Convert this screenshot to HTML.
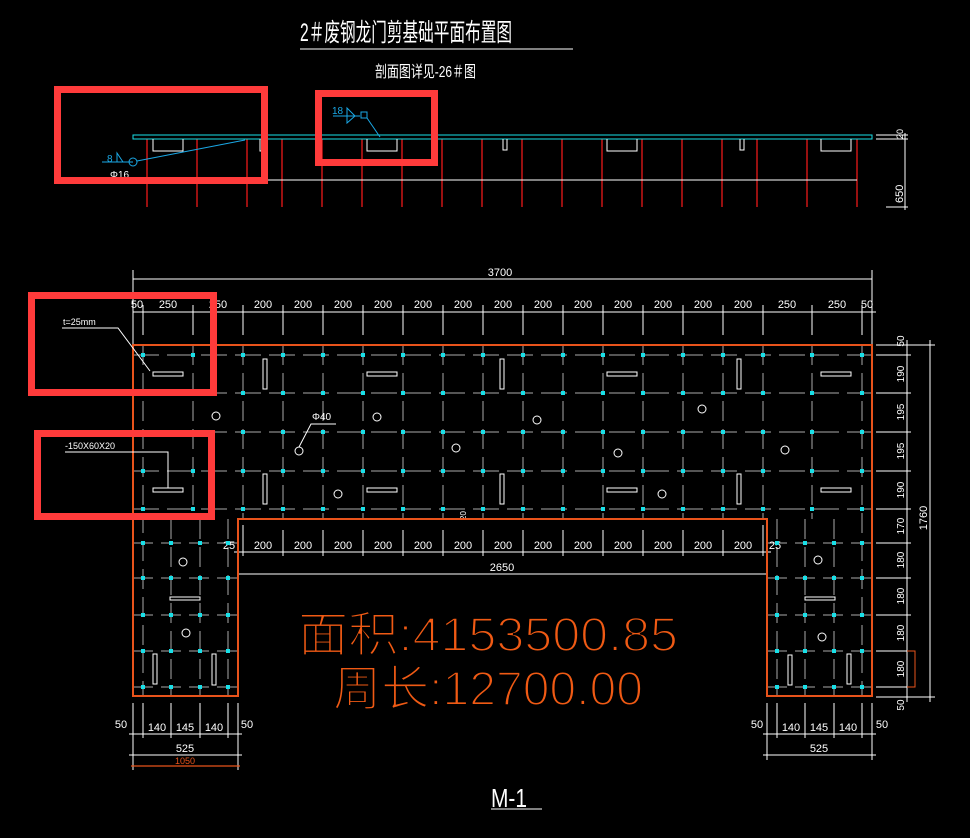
<!DOCTYPE html>
<html><head><meta charset="utf-8"><style>
html,body{margin:0;padding:0;background:#000;width:970px;height:838px;overflow:hidden}
svg{display:block}
text{font-family:"Liberation Sans","Noto Sans CJK SC",sans-serif}
</style></head><body>
<svg width="970" height="838" viewBox="0 0 970 838" xmlns="http://www.w3.org/2000/svg">
<defs>
<rect id="n" x="-2" y="-2" width="4" height="4" fill="#19e0e8"/>
</defs>
<text x="300" y="41" fill="#fff" font-size="25" textLength="212" lengthAdjust="spacingAndGlyphs">2＃废钢龙门剪基础平面布置图</text>
<line x1="300" y1="49" x2="573" y2="49" stroke="#fff" stroke-width="1"/>
<text x="375" y="77" fill="#fff" font-size="16" textLength="101" lengthAdjust="spacingAndGlyphs">剖面图详见-26＃图</text>

<g stroke="#ff1a1a" stroke-width="1.2">
<line x1="147" y1="139" x2="147" y2="207"/><line x1="197" y1="139" x2="197" y2="207"/><line x1="247" y1="139" x2="247" y2="207"/><line x1="282" y1="139" x2="282" y2="207"/><line x1="322" y1="139" x2="322" y2="207"/><line x1="362" y1="139" x2="362" y2="207"/><line x1="402" y1="139" x2="402" y2="207"/><line x1="442" y1="139" x2="442" y2="207"/><line x1="482" y1="139" x2="482" y2="207"/><line x1="522" y1="139" x2="522" y2="207"/><line x1="562" y1="139" x2="562" y2="207"/><line x1="602" y1="139" x2="602" y2="207"/><line x1="642" y1="139" x2="642" y2="207"/><line x1="682" y1="139" x2="682" y2="207"/><line x1="722" y1="139" x2="722" y2="207"/><line x1="757" y1="139" x2="757" y2="207"/><line x1="807" y1="139" x2="807" y2="207"/><line x1="857" y1="139" x2="857" y2="207"/>
</g>
<line x1="133" y1="180" x2="857" y2="180" stroke="#fff" stroke-width="1"/>
<rect x="133" y="135" width="739" height="4" fill="none" stroke="#19e0e8" stroke-width="1"/>
<g fill="none" stroke="#fff" stroke-width="1">
<path d="M153 139V151H183V139"/><path d="M260 139V151H262V139"/><path d="M367 139V151H397V139"/><path d="M503 139V150H507V139"/><path d="M607 139V151H637V139"/><path d="M740 139V150H744V139"/><path d="M821 139V151H851V139"/>
<line x1="876" y1="135" x2="908" y2="135"/><line x1="876" y1="139" x2="908" y2="139"/><line x1="905" y1="133" x2="905" y2="210"/><line x1="886" y1="207" x2="908" y2="207"/>
</g>
<text transform="translate(903,139) rotate(-90)" fill="#fff" font-size="9">20</text>
<text transform="translate(903,203) rotate(-90)" fill="#fff" font-size="11">650</text>
<g stroke="#1aa8e6" stroke-width="1" fill="none">
<line x1="102" y1="162" x2="133" y2="162"/><circle cx="133" cy="162" r="4"/><line x1="137" y1="161" x2="245" y2="140"/><path d="M117 162V153L123 162"/>
<line x1="333" y1="116" x2="360" y2="116"/><path d="M347 108L355 116L347 123Z"/><rect x="361" y="112" width="6" height="6"/><line x1="367" y1="118" x2="380" y2="137"/>
</g>
<text x="107" y="162" fill="#1aa8e6" font-size="10">8</text>
<text x="332" y="114" fill="#1aa8e6" font-size="10">18</text>
<text x="110" y="178" fill="#fff" font-size="10">Φ16</text>

<g stroke="#fff" stroke-width="1" fill="none">
<line x1="133" y1="279" x2="872" y2="279"/><line x1="133" y1="270" x2="133" y2="345"/><line x1="872" y1="270" x2="872" y2="345"/>
<line x1="133" y1="312" x2="876" y2="312"/>
<line x1="143" y1="305" x2="143" y2="335"/><line x1="193" y1="305" x2="193" y2="335"/><line x1="243" y1="305" x2="243" y2="335"/><line x1="283" y1="305" x2="283" y2="335"/><line x1="323" y1="305" x2="323" y2="335"/><line x1="363" y1="305" x2="363" y2="335"/><line x1="403" y1="305" x2="403" y2="335"/><line x1="443" y1="305" x2="443" y2="335"/><line x1="483" y1="305" x2="483" y2="335"/><line x1="523" y1="305" x2="523" y2="335"/><line x1="563" y1="305" x2="563" y2="335"/><line x1="603" y1="305" x2="603" y2="335"/><line x1="643" y1="305" x2="643" y2="335"/><line x1="683" y1="305" x2="683" y2="335"/><line x1="723" y1="305" x2="723" y2="335"/><line x1="763" y1="305" x2="763" y2="335"/><line x1="812" y1="305" x2="812" y2="335"/><line x1="862" y1="305" x2="862" y2="335"/>
</g>
<g fill="#fff" font-size="11" text-anchor="middle">
<text x="500" y="276">3700</text>
<text x="137" y="308">50</text><text x="168" y="308">250</text><text x="218" y="308">250</text>
<text x="263" y="308">200</text><text x="303" y="308">200</text><text x="343" y="308">200</text><text x="383" y="308">200</text><text x="423" y="308">200</text><text x="463" y="308">200</text><text x="503" y="308">200</text><text x="543" y="308">200</text><text x="583" y="308">200</text><text x="623" y="308">200</text><text x="663" y="308">200</text><text x="703" y="308">200</text><text x="743" y="308">200</text>
<text x="787" y="308">250</text><text x="837" y="308">250</text><text x="867" y="308">50</text>
</g>

<g stroke="#aaa" stroke-width="1" stroke-dasharray="26 8">
<line x1="133" y1="355" x2="872" y2="355"/><line x1="133" y1="393" x2="872" y2="393"/><line x1="133" y1="432" x2="872" y2="432"/><line x1="133" y1="471" x2="872" y2="471"/><line x1="133" y1="509" x2="872" y2="509"/>
</g>
<g stroke="#aaa" stroke-width="1" stroke-dasharray="20 8">
<line x1="143" y1="345" x2="143" y2="697"/><line x1="193" y1="345" x2="193" y2="519"/><line x1="243" y1="345" x2="243" y2="519"/><line x1="283" y1="345" x2="283" y2="519"/><line x1="323" y1="345" x2="323" y2="519"/><line x1="363" y1="345" x2="363" y2="519"/><line x1="403" y1="345" x2="403" y2="519"/><line x1="443" y1="345" x2="443" y2="519"/><line x1="483" y1="345" x2="483" y2="519"/><line x1="523" y1="345" x2="523" y2="519"/><line x1="563" y1="345" x2="563" y2="519"/><line x1="603" y1="345" x2="603" y2="519"/><line x1="643" y1="345" x2="643" y2="519"/><line x1="683" y1="345" x2="683" y2="519"/><line x1="723" y1="345" x2="723" y2="519"/><line x1="763" y1="345" x2="763" y2="519"/><line x1="812" y1="345" x2="812" y2="519"/><line x1="862" y1="345" x2="862" y2="697"/>
<line x1="171" y1="519" x2="171" y2="697"/><line x1="200" y1="519" x2="200" y2="697"/><line x1="228" y1="519" x2="228" y2="697"/>
<line x1="777" y1="519" x2="777" y2="697"/><line x1="805" y1="519" x2="805" y2="697"/><line x1="834" y1="519" x2="834" y2="697"/>
<line x1="133" y1="543" x2="238" y2="543"/><line x1="133" y1="578" x2="238" y2="578"/><line x1="133" y1="615" x2="238" y2="615"/><line x1="133" y1="651" x2="238" y2="651"/><line x1="133" y1="687" x2="238" y2="687"/>
<line x1="767" y1="543" x2="872" y2="543"/><line x1="767" y1="578" x2="872" y2="578"/><line x1="767" y1="615" x2="872" y2="615"/><line x1="767" y1="651" x2="872" y2="651"/><line x1="767" y1="687" x2="872" y2="687"/>
</g>
<g stroke="#fff" stroke-width="1">
<line x1="133" y1="703" x2="133" y2="770"/><line x1="143" y1="703" x2="143" y2="738"/><line x1="171" y1="703" x2="171" y2="738"/><line x1="200" y1="703" x2="200" y2="738"/><line x1="228" y1="703" x2="228" y2="738"/><line x1="238" y1="703" x2="238" y2="770"/>
<line x1="767" y1="703" x2="767" y2="760"/><line x1="777" y1="703" x2="777" y2="738"/><line x1="805" y1="703" x2="805" y2="738"/><line x1="834" y1="703" x2="834" y2="738"/><line x1="862" y1="703" x2="862" y2="738"/><line x1="872" y1="703" x2="872" y2="760"/>
<line x1="129" y1="734" x2="242" y2="734"/><line x1="129" y1="755" x2="242" y2="755"/>
<line x1="763" y1="734" x2="876" y2="734"/><line x1="763" y1="755" x2="876" y2="755"/>
</g>
<line x1="131" y1="766" x2="240" y2="766" stroke="#e8531b" stroke-width="1.2"/>
<g fill="#fff" font-size="11" text-anchor="middle">
<text x="121" y="728">50</text><text x="157" y="731">140</text><text x="185" y="731">145</text><text x="214" y="731">140</text><text x="247" y="728">50</text><text x="185" y="752">525</text>
<text x="757" y="728">50</text><text x="791" y="731">140</text><text x="819" y="731">145</text><text x="848" y="731">140</text><text x="882" y="728">50</text><text x="819" y="752">525</text>
</g>
<text x="185" y="764" fill="#e8531b" font-size="9" text-anchor="middle">1050</text>

<g stroke="#fff" stroke-width="1">
<line x1="234" y1="552" x2="771" y2="552"/><line x1="238" y1="574" x2="767" y2="574"/>
<line x1="283" y1="530" x2="283" y2="556"/><line x1="323" y1="530" x2="323" y2="556"/><line x1="363" y1="530" x2="363" y2="556"/><line x1="403" y1="530" x2="403" y2="556"/><line x1="443" y1="530" x2="443" y2="556"/><line x1="483" y1="530" x2="483" y2="556"/><line x1="523" y1="530" x2="523" y2="556"/><line x1="563" y1="530" x2="563" y2="556"/><line x1="603" y1="530" x2="603" y2="556"/><line x1="643" y1="530" x2="643" y2="556"/><line x1="683" y1="530" x2="683" y2="556"/><line x1="723" y1="530" x2="723" y2="556"/><line x1="243" y1="525" x2="243" y2="556"/><line x1="763" y1="525" x2="763" y2="556"/>
</g>
<g fill="#fff" font-size="11" text-anchor="middle">
<text x="229" y="549">25</text><text x="775" y="549">25</text>
<text x="263" y="549">200</text><text x="303" y="549">200</text><text x="343" y="549">200</text><text x="383" y="549">200</text><text x="423" y="549">200</text><text x="463" y="549">200</text><text x="503" y="549">200</text><text x="543" y="549">200</text><text x="583" y="549">200</text><text x="623" y="549">200</text><text x="663" y="549">200</text><text x="703" y="549">200</text><text x="743" y="549">200</text>
<text x="502" y="571">2650</text>
</g>
<text transform="translate(466,520) rotate(-90)" fill="#fff" font-size="8">20</text>

<g stroke="#fff" stroke-width="1">
<line x1="876" y1="345" x2="935" y2="345"/><line x1="876" y1="355" x2="911" y2="355"/><line x1="876" y1="393" x2="911" y2="393"/><line x1="876" y1="432" x2="911" y2="432"/><line x1="876" y1="471" x2="911" y2="471"/><line x1="876" y1="509" x2="911" y2="509"/><line x1="876" y1="543" x2="911" y2="543"/><line x1="876" y1="578" x2="911" y2="578"/><line x1="876" y1="615" x2="911" y2="615"/><line x1="876" y1="651" x2="911" y2="651"/><line x1="876" y1="687" x2="911" y2="687"/><line x1="876" y1="697" x2="935" y2="697"/>
<line x1="907" y1="340" x2="907" y2="702"/><line x1="930" y1="340" x2="930" y2="702"/>
</g>
<g fill="#fff" font-size="10" text-anchor="middle">
<text transform="translate(904,341) rotate(-90)">50</text>
<text transform="translate(904,374) rotate(-90)">190</text>
<text transform="translate(904,412) rotate(-90)">195</text>
<text transform="translate(904,451) rotate(-90)">195</text>
<text transform="translate(904,490) rotate(-90)">190</text>
<text transform="translate(904,526) rotate(-90)">170</text>
<text transform="translate(904,560) rotate(-90)">180</text>
<text transform="translate(904,596) rotate(-90)">180</text>
<text transform="translate(904,633) rotate(-90)">180</text>
<text transform="translate(904,669) rotate(-90)">180</text>
<text transform="translate(904,705) rotate(-90)">50</text>
<text transform="translate(927,518) rotate(-90)" font-size="11">1760</text>
</g>
<path d="M907 651H915V687H907" fill="none" stroke="#e8531b" stroke-width="1"/>

<path d="M133 345H872V696H767V519H238V696H133Z" fill="none" stroke="#e8531b" stroke-width="2"/>

<g>
<use href="#n" x="143" y="355"/><use href="#n" x="193" y="355"/><use href="#n" x="243" y="355"/><use href="#n" x="283" y="355"/><use href="#n" x="323" y="355"/><use href="#n" x="363" y="355"/><use href="#n" x="403" y="355"/><use href="#n" x="443" y="355"/><use href="#n" x="483" y="355"/><use href="#n" x="523" y="355"/><use href="#n" x="563" y="355"/><use href="#n" x="603" y="355"/><use href="#n" x="643" y="355"/><use href="#n" x="683" y="355"/><use href="#n" x="723" y="355"/><use href="#n" x="763" y="355"/><use href="#n" x="812" y="355"/><use href="#n" x="862" y="355"/>
<use href="#n" x="143" y="393"/><use href="#n" x="193" y="393"/><use href="#n" x="243" y="393"/><use href="#n" x="283" y="393"/><use href="#n" x="323" y="393"/><use href="#n" x="363" y="393"/><use href="#n" x="403" y="393"/><use href="#n" x="443" y="393"/><use href="#n" x="483" y="393"/><use href="#n" x="523" y="393"/><use href="#n" x="563" y="393"/><use href="#n" x="603" y="393"/><use href="#n" x="643" y="393"/><use href="#n" x="683" y="393"/><use href="#n" x="723" y="393"/><use href="#n" x="763" y="393"/><use href="#n" x="812" y="393"/><use href="#n" x="862" y="393"/>
<use href="#n" x="243" y="432"/><use href="#n" x="283" y="432"/><use href="#n" x="323" y="432"/><use href="#n" x="363" y="432"/><use href="#n" x="403" y="432"/><use href="#n" x="443" y="432"/><use href="#n" x="483" y="432"/><use href="#n" x="523" y="432"/><use href="#n" x="563" y="432"/><use href="#n" x="603" y="432"/><use href="#n" x="643" y="432"/><use href="#n" x="683" y="432"/><use href="#n" x="723" y="432"/><use href="#n" x="763" y="432"/><use href="#n" x="812" y="432"/><use href="#n" x="862" y="432"/>
<use href="#n" x="143" y="471"/><use href="#n" x="193" y="471"/><use href="#n" x="243" y="471"/><use href="#n" x="283" y="471"/><use href="#n" x="323" y="471"/><use href="#n" x="363" y="471"/><use href="#n" x="403" y="471"/><use href="#n" x="443" y="471"/><use href="#n" x="483" y="471"/><use href="#n" x="523" y="471"/><use href="#n" x="563" y="471"/><use href="#n" x="603" y="471"/><use href="#n" x="643" y="471"/><use href="#n" x="683" y="471"/><use href="#n" x="723" y="471"/><use href="#n" x="763" y="471"/><use href="#n" x="812" y="471"/><use href="#n" x="862" y="471"/>
<use href="#n" x="143" y="509"/><use href="#n" x="193" y="509"/><use href="#n" x="243" y="509"/><use href="#n" x="283" y="509"/><use href="#n" x="323" y="509"/><use href="#n" x="363" y="509"/><use href="#n" x="403" y="509"/><use href="#n" x="443" y="509"/><use href="#n" x="483" y="509"/><use href="#n" x="523" y="509"/><use href="#n" x="563" y="509"/><use href="#n" x="603" y="509"/><use href="#n" x="643" y="509"/><use href="#n" x="683" y="509"/><use href="#n" x="723" y="509"/><use href="#n" x="763" y="509"/><use href="#n" x="812" y="509"/><use href="#n" x="862" y="509"/>
<use href="#n" x="143" y="543"/><use href="#n" x="171" y="543"/><use href="#n" x="200" y="543"/><use href="#n" x="228" y="543"/><use href="#n" x="777" y="543"/><use href="#n" x="805" y="543"/><use href="#n" x="834" y="543"/><use href="#n" x="862" y="543"/>
<use href="#n" x="143" y="578"/><use href="#n" x="171" y="578"/><use href="#n" x="200" y="578"/><use href="#n" x="228" y="578"/><use href="#n" x="777" y="578"/><use href="#n" x="805" y="578"/><use href="#n" x="834" y="578"/><use href="#n" x="862" y="578"/>
<use href="#n" x="143" y="615"/><use href="#n" x="171" y="615"/><use href="#n" x="200" y="615"/><use href="#n" x="228" y="615"/><use href="#n" x="777" y="615"/><use href="#n" x="805" y="615"/><use href="#n" x="834" y="615"/><use href="#n" x="862" y="615"/>
<use href="#n" x="143" y="651"/><use href="#n" x="171" y="651"/><use href="#n" x="200" y="651"/><use href="#n" x="228" y="651"/><use href="#n" x="777" y="651"/><use href="#n" x="805" y="651"/><use href="#n" x="834" y="651"/><use href="#n" x="862" y="651"/>
<use href="#n" x="143" y="687"/><use href="#n" x="171" y="687"/><use href="#n" x="200" y="687"/><use href="#n" x="228" y="687"/><use href="#n" x="777" y="687"/><use href="#n" x="805" y="687"/><use href="#n" x="834" y="687"/><use href="#n" x="862" y="687"/>
</g>

<g fill="none" stroke="#fff" stroke-width="1">
<rect x="153" y="372" width="30" height="4"/><rect x="367" y="372" width="30" height="4"/><rect x="607" y="372" width="30" height="4"/><rect x="821" y="372" width="30" height="4"/>
<rect x="153" y="488" width="30" height="4"/><rect x="367" y="488" width="30" height="4"/><rect x="607" y="488" width="30" height="4"/><rect x="821" y="488" width="30" height="4"/>
<rect x="263" y="359" width="4" height="30"/><rect x="263" y="474" width="4" height="30"/><rect x="500" y="359" width="4" height="30"/><rect x="500" y="474" width="4" height="30"/><rect x="737" y="359" width="4" height="30"/><rect x="737" y="474" width="4" height="30"/>
<rect x="170" y="597" width="30" height="3"/><rect x="153" y="654" width="4" height="30"/><rect x="212" y="654" width="4" height="31"/>
<rect x="805" y="597" width="30" height="3"/><rect x="788" y="655" width="4" height="30"/><rect x="847" y="654" width="4" height="30"/>
<circle cx="216" cy="416" r="4"/><circle cx="299" cy="451" r="4"/><circle cx="377" cy="417" r="4"/><circle cx="456" cy="448" r="4"/><circle cx="338" cy="494" r="4"/><circle cx="537" cy="420" r="4"/><circle cx="618" cy="453" r="4"/><circle cx="702" cy="409" r="4"/><circle cx="662" cy="494" r="4"/><circle cx="785" cy="450" r="4"/><circle cx="818" cy="560" r="4"/><circle cx="822" cy="637" r="4"/><circle cx="183" cy="562" r="4"/><circle cx="186" cy="633" r="4"/>
<path d="M299 447L311 424H336"/>
<path d="M62 328H118L150 371"/>
<path d="M65 452H168V488"/>
</g>
<text x="312" y="420" fill="#fff" font-size="10">Φ40</text>
<text x="63" y="325" fill="#fff" font-size="9">t=25mm</text>
<text x="65" y="449" fill="#fff" font-size="9">-150X60X20</text>

<text x="298" y="651" fill="#f05a14" stroke="#000" stroke-width="2" font-size="48" textLength="380" lengthAdjust="spacingAndGlyphs">面积:4153500.85</text>
<text x="333" y="705" fill="#f05a14" stroke="#000" stroke-width="2" font-size="48" textLength="310" lengthAdjust="spacingAndGlyphs">周长:12700.00</text>

<text x="491" y="807" fill="#fff" font-size="26" textLength="36" lengthAdjust="spacingAndGlyphs">M-1</text>
<line x1="491" y1="809" x2="542" y2="809" stroke="#fff" stroke-width="1"/>

<g fill="none" stroke="#ff3b3b" stroke-width="7">
<rect x="57.5" y="89.5" width="207" height="91"/>
<rect x="318.5" y="93.5" width="116" height="69"/>
<rect x="31.5" y="295.5" width="182" height="97"/>
<rect x="37.5" y="433.5" width="174" height="83"/>
</g>
</svg>
</body></html>
